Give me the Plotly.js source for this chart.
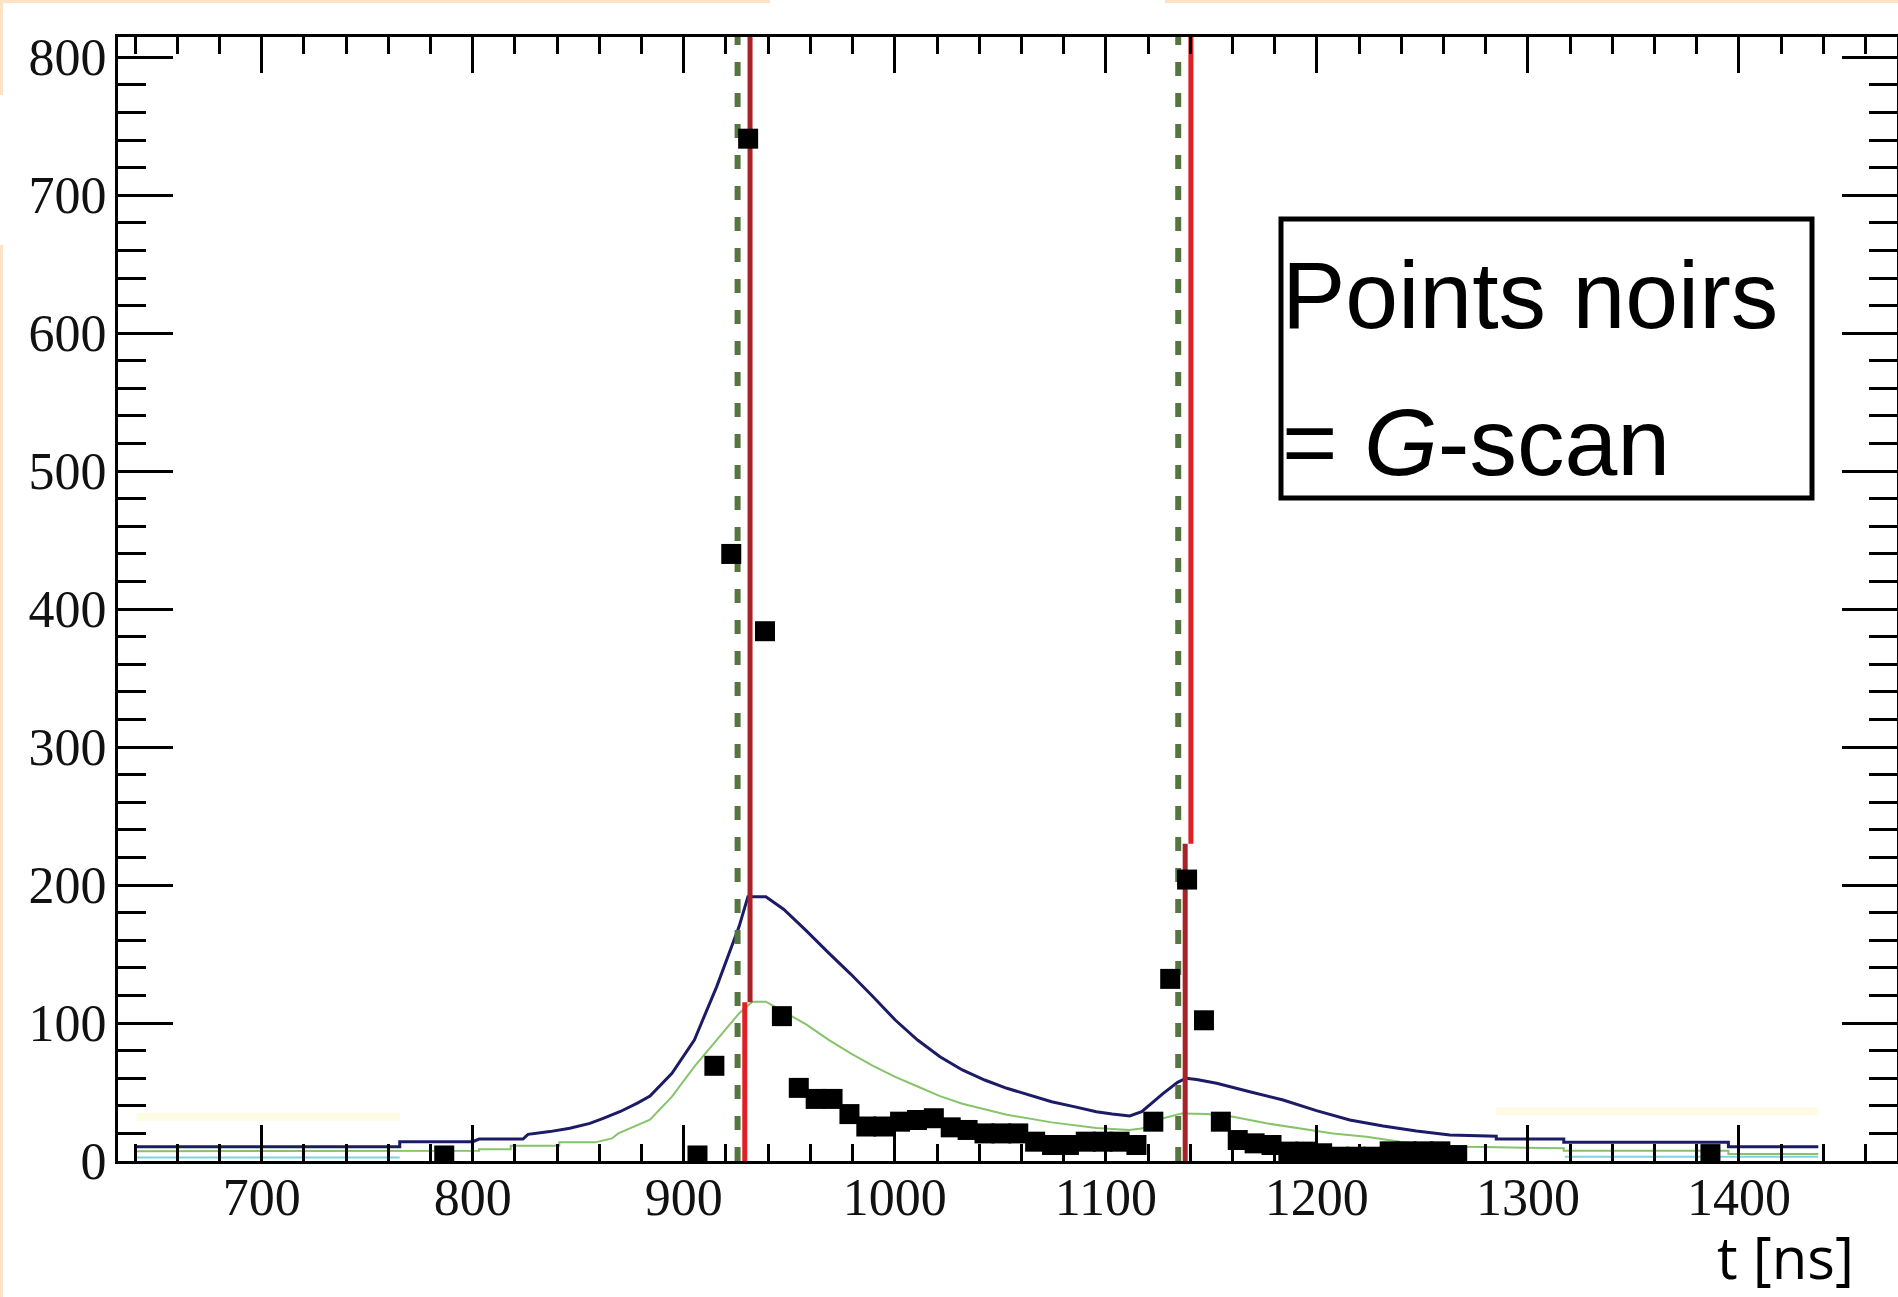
<!DOCTYPE html>
<html>
<head>
<meta charset="utf-8">
<script src="https://cdn.plot.ly/plotly-3.0.1.min.js"></script>
<style>
  html, body { margin: 0; padding: 0; background: #ffffff; }
  #chart { width: 1898px; height: 1297px; }
</style>
</head>
<body>
<div id="chart"></div>
<script>
// ---------------- data ----------------
// G-scan points (black squares): time [ns] and amplitude
const gscanT = [786.5, 906.5, 914.5, 922.5, 930.5, 938.5, 946.5, 954.5, 962.5, 970.5,
                978.5, 986.5, 994.5, 1002.5, 1010.5, 1018.5, 1026.5, 1034.5, 1042.5, 1050.5,
                1058.5, 1066.5, 1074.5, 1082.5, 1090.5, 1098.5, 1106.5, 1114.5, 1122.5, 1130.5,
                1138.5, 1146.5, 1154.5, 1162.5, 1170.5, 1178.5, 1186.5, 1194.5, 1202.5, 1210.5,
                1218.5, 1226.5, 1234.5, 1242.5, 1250.5, 1258.5, 1266.5, 1386.5];
const gscanV = [4, 4, 69, 440, 741, 384, 105, 53, 45, 45,
                34, 25, 25, 28.5, 29.7, 31, 24.4, 22.5, 20, 20,
                20, 14, 11.6, 11.6, 14, 14, 14, 11.6, 28.5, 132,
                204, 102, 28.5, 15.2, 12.8, 11.6, 6.8, 6.8, 5.6, 3.1,
                3.1, 3.1, 7, 7, 7, 7, 4.3, 5];

// dark blue curve
const blueT = [640.6, 765.4, 765.4, 800, 803, 823.8, 826.2, 836.5, 846, 855.5,
               861.8, 869.7, 878, 884, 894.4, 905, 915.6, 926.2, 930.4, 938.9,
               947.3, 958, 968.5, 979.1, 989.7, 1000.2, 1010.8, 1021.4, 1032, 1042.6,
               1053.1, 1063.7, 1074.3, 1084.9, 1095.5, 1103, 1111.3, 1117, 1127.2, 1134,
               1138, 1143, 1152.5, 1168.2, 1184, 1199.8, 1215.6, 1231.4, 1247.2, 1263,
               1285, 1285, 1317, 1317, 1395, 1395, 1437.6];
const blueV = [10.4, 10.4, 14, 14, 15.9, 15.9, 19.3, 21.3, 23.7, 27.3,
               30.9, 35.7, 42, 47, 63.5, 87.7, 126.4, 169.9, 191.6, 191.6,
               182.5, 167, 151, 135.5, 119.1, 102.2, 87.7, 75.6, 66, 58.7,
               52.7, 47.8, 43, 39.4, 35.7, 34, 32.6, 35.7, 49, 57,
               60, 59, 56.3, 50.2, 44.2, 36.5, 29.7, 25.4, 21.7, 18.8,
               18, 16, 16, 13.5, 13.5, 10.4, 10.4];

// light green curve
const greenT = [640.6, 765.4, 765.4, 803, 803, 818, 818, 841, 841, 858,
                866, 869, 884, 894.4, 905, 915.6, 926.2, 932.5, 938.9, 947.3,
                958, 968.5, 979.1, 989.7, 1000.2, 1010.8, 1021.4, 1032, 1053.1, 1074.3,
                1095.5, 1111, 1117, 1127.2, 1136, 1148, 1160.3, 1176.1, 1191.9, 1207.7,
                1223.5, 1239.3, 1255.1, 1271, 1317, 1317, 1395, 1395, 1437.6];
const greenV = [7, 7, 7.5, 7.5, 8.5, 8.5, 11, 11, 13.5, 13.5,
                16.4, 20, 30, 46.6, 68.4, 87.7, 107, 115.5, 115.5, 108.2,
                99, 88, 78, 69, 61, 54, 47, 41.5, 33.5, 28,
                24, 22.5, 23.5, 31, 34.5, 34, 32, 27.3, 23.7, 20,
                17.6, 14, 11.6, 10.4, 9.2, 7.5, 7.5, 5, 5];

// pale cyan baseline curve (tails)
const cyanT = [640.6, 765.4, null, 1317.5, 1437.6];
const cyanV = [2.5, 2.5, null, 3, 3];

// very faint yellow curve (tails)
const yellowT = [640.6, 765.4, null, 1285, 1437.6];
const yellowV = [32, 32, null, 36, 36];

// vertical markers
const dashT   = [925.5, 1134.3];   // green dashed lines
const redT    = [928.9, 1140.3];   // bright red lines
const maroonT = [931.4, 1137.6];   // dark red lines
const splitV  = [115, 230];        // amplitude where red / dark red meet
const yMax = 814.7;                // top of the y axis

// axis ticks
const xTickStep = 100, xMinorStep = 20;
const yTickStep = 100, yMinorStep = 20;

// ---------------- traces ----------------
const traces = [];
traces.push({x: yellowT, y: yellowV, mode: 'lines', line: {color: '#fdfbe4', width: 8}, hoverinfo: 'skip', connectgaps: false});
traces.push({x: cyanT, y: cyanV, mode: 'lines', line: {color: '#7ed3de', width: 2}, hoverinfo: 'skip', connectgaps: false});
traces.push({x: greenT, y: greenV, mode: 'lines', line: {color: '#86c46a', width: 2}});
traces.push({x: blueT, y: blueV, mode: 'lines', line: {color: '#1c1c66', width: 3}});

for (let i = 0; i < dashT.length; i++) {
  traces.push({x: [dashT[i], dashT[i]], y: [0, yMax], mode: 'lines',
               line: {color: '#56763f', width: 6, dash: '14px,17px'}});
}
// first marker: red below, dark red above
traces.push({x: [redT[0], redT[0]], y: [0, splitV[0]], mode: 'lines', line: {color: '#e01f27', width: 5}});
traces.push({x: [maroonT[0], maroonT[0]], y: [splitV[0], yMax], mode: 'lines', line: {color: '#a82227', width: 5}});
// second marker: dark red below, red above
traces.push({x: [maroonT[1], maroonT[1]], y: [0, splitV[1]], mode: 'lines', line: {color: '#a82227', width: 5}});
traces.push({x: [redT[1], redT[1]], y: [splitV[1], yMax], mode: 'lines', line: {color: '#e01f27', width: 5}});

traces.push({x: gscanT, y: gscanV, mode: 'markers',
             marker: {symbol: 'square', size: 20, color: '#000000', line: {width: 0}}});

// ---------------- layout ----------------
const L = 118, R = 1, T = 37, B = 136, W = 1898, H = 1297;
const pw = W - L - R, ph = H - T - B;
const px2x = p => (p - L) / pw;           // pixel -> paper x
const px2y = p => (H - B - p) / ph;       // pixel -> paper y

const tickFont = {family: 'Liberation Serif, Times New Roman, serif', size: 52, color: '#111111'};

const layout = {
  width: W, height: H,
  margin: {l: L, r: R, t: T, b: B, pad: 0},
  paper_bgcolor: '#ffffff', plot_bgcolor: '#ffffff',
  showlegend: false,
  xaxis: {
    range: [631.9, 1474.9], showgrid: false, zeroline: false,
    showline: true, linecolor: '#000000', linewidth: 3, mirror: 'allticks',
    ticks: 'inside', ticklen: 36, tickwidth: 3, tickcolor: '#000000',
    tick0: 0, dtick: xTickStep, tickfont: tickFont, ticklabelstandoff: -11,
    minor: {ticks: 'inside', dtick: xMinorStep, tick0: 0, ticklen: 17, tickwidth: 3, tickcolor: '#000000', showgrid: false}
  },
  yaxis: {
    range: [0, yMax], showgrid: false, zeroline: false,
    showline: true, linecolor: '#000000', linewidth: 3, mirror: 'allticks',
    ticks: 'inside', ticklen: 55, tickwidth: 3, tickcolor: '#000000',
    tick0: 0, dtick: yTickStep, tickfont: tickFont, ticklabelstandoff: -2,
    minor: {ticks: 'inside', dtick: yMinorStep, tick0: 0, ticklen: 28, tickwidth: 3, tickcolor: '#000000', showgrid: false}
  },
  shapes: [
    // text box
    {type: 'rect', xref: 'paper', yref: 'paper',
     x0: px2x(1281), x1: px2x(1812), y0: px2y(498), y1: px2y(219),
     line: {color: '#000000', width: 5}, fillcolor: 'rgba(255,255,255,0)', layer: 'above'},
    // peach slide border
    {type: 'line', xref: 'paper', yref: 'paper', x0: px2x(0), x1: px2x(770), y0: px2y(1.5), y1: px2y(1.5),
     line: {color: '#fde3c6', width: 3}},
    {type: 'line', xref: 'paper', yref: 'paper', x0: px2x(1165), x1: px2x(1898), y0: px2y(1.5), y1: px2y(1.5),
     line: {color: '#fde3c6', width: 3}},
    {type: 'line', xref: 'paper', yref: 'paper', x0: px2x(1.5), x1: px2x(1.5), y0: px2y(0), y1: px2y(95),
     line: {color: '#fde3c6', width: 3}},
    {type: 'line', xref: 'paper', yref: 'paper', x0: px2x(1.5), x1: px2x(1.5), y0: px2y(245), y1: px2y(1297),
     line: {color: '#fde3c6', width: 3}}
  ],
  annotations: [
    {xref: 'paper', yref: 'paper', x: px2x(1280), y: px2y(295), xanchor: 'left', yanchor: 'middle',
     text: 'Points noirs', showarrow: false,
     font: {family: 'Liberation Sans, Arial, sans-serif', size: 95, color: '#000000'}},
    {xref: 'paper', yref: 'paper', x: px2x(1280), y: px2y(442), xanchor: 'left', yanchor: 'middle',
     text: '= <i>G</i>-scan', showarrow: false,
     font: {family: 'Liberation Sans, Arial, sans-serif', size: 95, color: '#000000'}},
    {xref: 'paper', yref: 'paper', x: px2x(1856), y: px2y(1256), xanchor: 'right', yanchor: 'middle',
     text: 't [ns]', showarrow: false,
     font: {family: 'Open Sans, sans-serif', size: 58, color: '#000000'}}
  ]
};

Plotly.newPlot('chart', traces, layout, {staticPlot: true, displayModeBar: false});
</script>
</body>
</html>
